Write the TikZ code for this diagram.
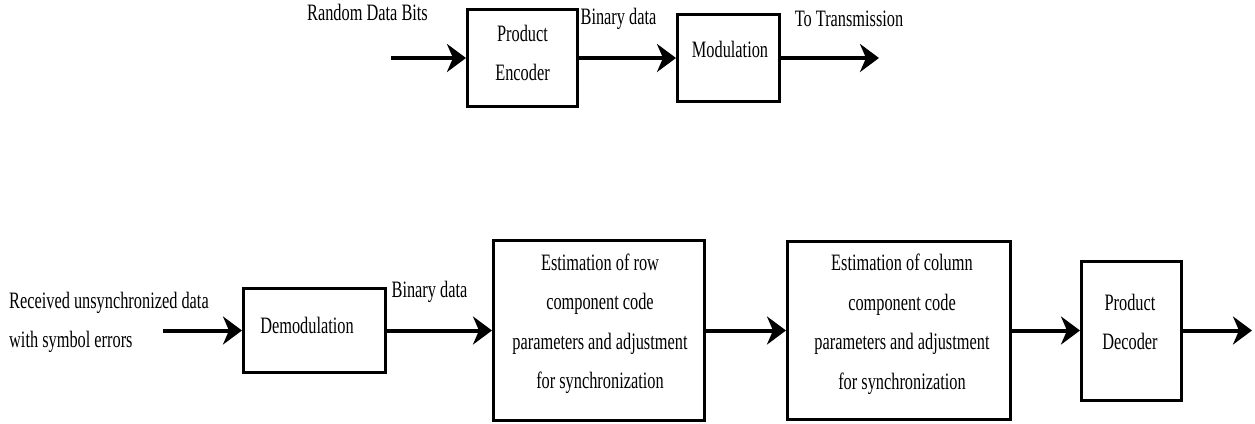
\documentclass[tikz,border=0pt]{standalone}
\usepackage{fontspec}
\setmainfont{Liberation Serif}[FakeStretch=0.695]
\usetikzlibrary{arrows.meta}
\begin{document}
\begin{tikzpicture}[x=1pt,y=-1pt,
  blk/.style={draw=black, line width=3pt, inner sep=0pt, outer sep=1.5pt},
  txt/.style={inner sep=0pt, align=center, font=\fontsize{23.5}{39.5}\selectfont},
  lbl/.style={inner sep=0pt, anchor=base, font=\fontsize{23.5}{39.5}\selectfont},
  flow/.style={line width=4pt, -{Stealth[length=19pt, width=28pt, inset=6pt]}}
]
\useasboundingbox[fill=white] (0,0) rectangle (1255,423);
% top row
\node[blk, minimum width=110pt, minimum height=97pt] (enc) at (522.5,58) {};
\node[blk, minimum width=102pt, minimum height=87pt] (mod) at (728.5,58) {};
\node[txt] (enctxt) at (522.5,53) {Product\\Encoder};
\node[lbl] (modtxt) at (730,57) {Modulation};
\node[lbl] (rdb) at (367.5,20) {Random Data Bits};
\node[lbl] (bd1) at (618.5,24) {Binary data};
\node[lbl] (tt) at (849,27) {To Transmission};
\coordinate (in1) at (391,58);
\coordinate (out1) at (879,58);
\draw[flow] (in1) -- (enc.west);
\draw[flow] (enc.east) -- (mod.west);
\draw[flow] (mod.east) -- (out1);
% bottom row
\node[blk, minimum width=142pt, minimum height=84pt] (dem) at (314.5,330.5) {};
\node[blk, minimum width=211pt, minimum height=180pt] (row) at (599,330.5) {};
\node[blk, minimum width=223pt, minimum height=178pt] (col) at (899,330.5) {};
\node[blk, minimum width=100pt, minimum height=139pt] (dec) at (1131.5,330.5) {};
\node[lbl] (demtxt) at (307,333) {Demodulation};
\node[txt] (rowtxt) at (600,324) {Estimation of row\\component code\\parameters and adjustment\\for synchronization};
\node[txt] (coltxt) at (902,324.5) {Estimation of column\\component code\\parameters and adjustment\\for synchronization};
\node[txt] (dectxt) at (1130,322) {Product\\Decoder};
\node[txt, anchor=west, align=left] (rx) at (9,322.5) {Received unsynchronized data\\with symbol errors};
\node[lbl] (bd2) at (429.5,297) {Binary data};
\coordinate (in2) at (163,330.5);
\coordinate (out2) at (1252,330.5);
\draw[flow] (in2) -- (dem.west);
\draw[flow] (dem.east) -- (row.west);
\draw[flow] (row.east) -- (col.west);
\draw[flow] (col.east) -- (dec.west);
\draw[flow] (dec.east) -- (out2);
\end{tikzpicture}
\end{document}
